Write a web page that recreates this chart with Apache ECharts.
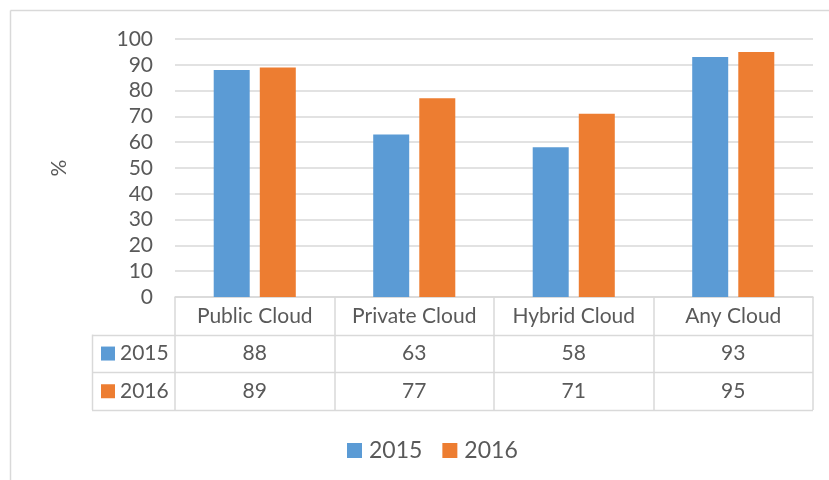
<!DOCTYPE html>
<html>
<head>
<meta charset="utf-8">
<script src="https://cdn.jsdelivr.net/npm/echarts@6/dist/echarts.min.js"></script>
<style>
  html, body { margin: 0; padding: 0; background: #fff; }
  #main { width: 829px; height: 480px; }
</style>
</head>
<body>
<div id="main"></div>
<script>
// 数据
const categories = ['Public Cloud', 'Private Cloud', 'Hybrid Cloud', 'Any Cloud']
const seriesNames = ['2015', '2016']
const values2015 = [88, 63, 58, 93]
const values2016 = [89, 77, 71, 95]
const yTicks = { min: 0, max: 100, interval: 10 }

const color = ['#5B9BD5', '#ED7D31']
const textColor = '#595959'
const lineColor = '#D9D9D9'
const font = 'Lato, "Open Sans", sans-serif'

// 布局
const plotLeft = 175
const plotRight = 813
const plotTop = 39
const plotBottom = 297
const rowH = 37.7
const tableLeft = 92

const chart = echarts.init(document.getElementById('main'))

// 表格左侧的图例和线
function tableGraphics() {
  const els = []
  // 外框
  els.push({ type: 'line', shape: { x1: 10.5, y1: 10.5, x2: 829, y2: 10.5 }, style: { stroke: lineColor, lineWidth: 1.5 } })
  els.push({ type: 'line', shape: { x1: 10.5, y1: 10.5, x2: 10.5, y2: 480 }, style: { stroke: lineColor, lineWidth: 1.5 } })
  // 横线
  for (let i = 1; i <= 3; i++) {
    const y = Math.round(plotBottom + rowH * i) + 0.5
    els.push({ type: 'line', shape: { x1: tableLeft, y1: y, x2: plotRight, y2: y }, style: { stroke: lineColor, lineWidth: 1.5 } })
  }
  // 左竖线
  els.push({ type: 'line', shape: { x1: tableLeft + 0.5, y1: plotBottom + rowH, x2: tableLeft + 0.5, y2: plotBottom + rowH * 3 }, style: { stroke: lineColor, lineWidth: 1.5 } })
  // 行标题
  seriesNames.forEach((name, i) => {
    const cy = plotBottom + rowH * (i + 1.5)
    els.push({ type: 'rect', shape: { x: 101, y: cy - 7, width: 14, height: 14 }, style: { fill: color[i] } })
    els.push({ type: 'text', style: { x: 120, y: cy, text: name, fill: textColor, font: '21px ' + font, verticalAlign: 'middle' } })
  })
  return els
}

const baseX = {
  type: 'category',
  position: 'bottom',
  axisLine: { show: false },
  axisTick: { show: false },
  splitLine: { show: false },
  axisLabel: { interval: 0, color: textColor, fontFamily: font, fontSize: 21, verticalAlign: 'middle', margin: 19 }
}

const option = {
  animation: false,
  color: color,
  grid: { left: plotLeft, right: 829 - plotRight, top: plotTop, bottom: 480 - plotBottom },
  legend: {
    bottom: 13,
    left: 342,
    itemWidth: 15,
    itemHeight: 15,
    itemGap: 20,
    icon: 'rect',
    textStyle: { color: textColor, fontFamily: font, fontSize: 23, padding: [0, 0, 0, 2] },
    data: seriesNames
  },
  xAxis: [
    Object.assign({}, baseX, {
      data: categories,
      axisLine: { show: true, lineStyle: { color: lineColor, width: 1.5 } },
      axisTick: { show: true, interval: 0, alignWithLabel: false, length: Math.round(rowH * 3), lineStyle: { color: lineColor, width: 1.5 } }
    }),
    Object.assign({}, baseX, { data: values2015.map(String), offset: rowH }),
    Object.assign({}, baseX, { data: values2016.map(String), offset: rowH * 2 })
  ],
  yAxis: {
    type: 'value',
    min: yTicks.min,
    max: yTicks.max,
    interval: yTicks.interval,
    name: '%',
    nameLocation: 'middle',
    nameRotate: 90,
    nameGap: 105,
    nameTextStyle: { color: textColor, fontFamily: font, fontSize: 21 },
    axisLine: { show: false },
    axisTick: { show: false },
    axisLabel: { color: textColor, fontFamily: font, fontSize: 21, margin: 22 },
    splitLine: { lineStyle: { color: lineColor, width: 1.5 } }
  },
  series: [
    { name: seriesNames[0], type: 'bar', data: values2015, barWidth: 36, barGap: '28%', xAxisIndex: 0 },
    { name: seriesNames[1], type: 'bar', data: values2016, barWidth: 36, barGap: '28%', xAxisIndex: 0 }
  ],
  graphic: tableGraphics()
}

chart.setOption(option)
</script>
</body>
</html>
